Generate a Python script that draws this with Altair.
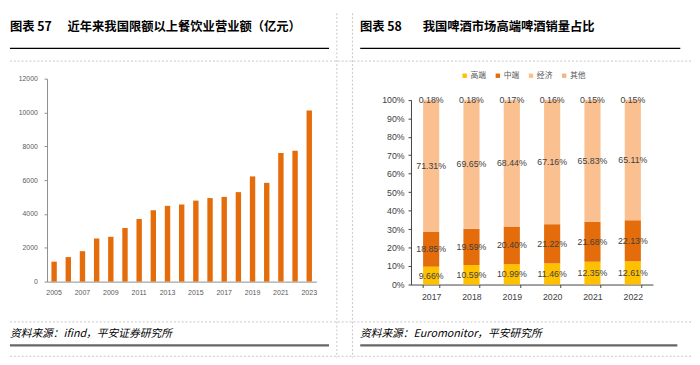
import altair as alt
import pandas as pd

# ---------------- data ----------------
years_left = ["2005", "2006", "2007", "2008", "2009", "2010", "2011", "2012", "2013", "2014",
              "2015", "2016", "2017", "2018", "2019", "2020", "2021", "2022", "2023"]
revenue = [1180, 1450, 1800, 2550, 2650, 3170, 3700, 4220, 4480, 4560,
           4790, 4940, 5010, 5290, 6220, 5840, 7600, 7740, 10120]
left_tick_years = ["2005", "2007", "2009", "2011", "2013", "2015", "2017", "2019", "2021", "2023"]

years_right = ["2017", "2018", "2019", "2020", "2021", "2022"]
segments = ["高端", "中端", "经济", "其他"]
high = [9.66, 10.59, 10.99, 11.46, 12.35, 12.61]
middle = [18.85, 19.59, 20.40, 21.22, 21.68, 22.13]
economy = [71.31, 69.65, 68.44, 67.16, 65.83, 65.11]
other = [0.18, 0.18, 0.17, 0.16, 0.15, 0.15]
seg_colors = ["#FFC000", "#E46C0A", "#FAC090", "#F4B48A"]
pct_ticks = [0, 0.1, 0.2, 0.3, 0.4, 0.5, 0.6, 0.7, 0.8, 0.9, 1.0]

title_left = "近年来我国限额以上餐饮业营业额（亿元）"
title_right = "我国啤酒市场高端啤酒销量占比"
source_left = "资料来源：ifind，平安证券研究所"
source_right = "资料来源：Euromonitor，平安研究所"

CJK = "Noto Sans CJK SC"
NUM = "Liberation Sans"

# ---------------- tables ----------------
df_left = pd.DataFrame({"year": years_left, "value": revenue})

rows = []
for j, y in enumerate(years_right):
    base = 0.0
    for i, (seg, series) in enumerate(zip(segments, [high, middle, economy, other])):
        v = series[j]
        rows.append({"year": y, "seg": seg, "idx": i, "frac": v / 100.0,
                     "mid": (base + v / 2.0) / 100.0, "label": f"{v:.2f}%"})
        base += v
df_right = pd.DataFrame(rows)

one = pd.DataFrame({"k": [0]})


def hrule(x1, x2, y, color, width=1.0, dash=None):
    kw = dict(color=color, strokeWidth=width)
    if dash:
        kw["strokeDash"] = dash
    return alt.Chart(one).mark_rule(**kw).encode(
        x=alt.value(x1), x2=alt.value(x2), y=alt.value(y))


def vrule(x, y1, y2, color, width=1.0, dash=None):
    kw = dict(color=color, strokeWidth=width)
    if dash:
        kw["strokeDash"] = dash
    return alt.Chart(one).mark_rule(**kw).encode(
        x=alt.value(x), y=alt.value(y1), y2=alt.value(y2))


def label(txt, x, y, size, weight="normal", style="normal", font=CJK, color="#000000"):
    return alt.Chart(one).mark_text(
        text=txt, align="left", baseline="middle", fontSize=size, fontWeight=weight,
        fontStyle=style, font=font, color=color).encode(x=alt.value(x), y=alt.value(y))


# ---------------- left panel ----------------
LW, LH = 276, 208
bars_left = alt.Chart(df_left).mark_bar(color="#E46C0A").encode(
    x=alt.X("year:N", sort=years_left,
            scale=alt.Scale(paddingInner=0.62, paddingOuter=0.31),
            axis=alt.Axis(title=None, values=left_tick_years, labelAngle=0, ticks=False,
                          labelPadding=7, labelFontSize=7.2, labelFont=NUM,
                          labelColor="#595959", domainColor="#8c8c8c")),
    y=alt.Y("value:Q", scale=alt.Scale(domain=[0, 12000], nice=False),
            axis=alt.Axis(title=None, values=list(range(0, 12001, 2000)), format="d",
                          grid=False, tickSize=3, tickColor="#8c8c8c", labelPadding=7,
                          labelFontSize=7, labelFont=NUM, labelColor="#595959",
                          domainColor="#8c8c8c", labelOverlap=False)),
).properties(width=LW, height=LH)

GRAY = "#c4c4c4"
DASH = [2, 2]
deco = [
    hrule(-38, -37, -67, "#ffffff"),  # anchor
    label("图表 57", -38, -52.5, 12.6, weight="bold"),
    label(title_left, 21, -52.5, 12.6, weight="bold"),
    label("图表 58", 320.7, -52.5, 12.6, weight="bold"),
    label(title_right, 385, -52.5, 12.6, weight="bold"),
    hrule(-38, 289, -31, "#000000", 1.3),
    hrule(321, 649, -31, "#000000", 1.3),
    hrule(-38, 660, -18, GRAY, 1, DASH),
    hrule(-38, 660, 249.3, GRAY, 1, DASH),
    hrule(-38, 660, 284.5, GRAY, 1, DASH),
    vrule(297, -67, 286, GRAY, 1, DASH),
    vrule(313, -67, 286, GRAY, 1, DASH),
    label(source_left, -38, 261.7, 11, style="italic"),
    label(source_right, 320.7, 261.7, 11, style="italic"),
    hrule(-38, 289, 273.3, "#666666", 2.4),
    hrule(321, 646, 273.3, "#666666", 2.4),
]
left_panel = alt.layer(bars_left, *deco)

# ---------------- right panel ----------------
RW, RH = 248, 211
x_scale_r = alt.Scale(paddingInner=0.6, paddingOuter=0.3)
y_scale = alt.Scale(domain=[0, 1], range=[RH, 21.7], nice=False)
x_axis_r = alt.Axis(title=None, labelAngle=0, tickBand="extent", tickSize=3,
                    tickColor="#404040", labelPadding=5, labelFontSize=9,
                    labelFont=NUM, labelColor="#404040", domainColor="#404040")
y_axis_r = alt.Axis(title=None, format=".0%", values=pct_ticks,
                    grid=False, tickSize=3, tickColor="#404040", labelPadding=4,
                    labelFontSize=9, labelFont=NUM, labelColor="#404040",
                    domainColor="#404040", labelOverlap=False)

bars_right = alt.Chart(df_right).mark_bar().encode(
    x=alt.X("year:N", sort=years_right, scale=x_scale_r, axis=x_axis_r),
    y=alt.Y("frac:Q", stack="zero", scale=y_scale, axis=y_axis_r),
    color=alt.Color("seg:N", scale=alt.Scale(domain=segments, range=seg_colors),
                    legend=alt.Legend(title=None, orient="none", legendX=424, legendY=-7,
                                      direction="horizontal", symbolType="square",
                                      symbolSize=20, symbolStrokeWidth=0, labelFontSize=8,
                                      labelFont=CJK, labelColor="#595959", labelOffset=2,
                                      columnPadding=8)),
    order=alt.Order("idx:Q", sort="ascending"),
)

texts_right = alt.Chart(df_right).mark_text(
    fontSize=9, font=NUM, color="#404040", baseline="middle").encode(
    x=alt.X("year:N", sort=years_right, scale=x_scale_r, axis=x_axis_r),
    y=alt.Y("mid:Q", stack=None, scale=y_scale, axis=y_axis_r),
    text="label:N",
)

right_panel = alt.layer(bars_right, texts_right).properties(width=RW, height=RH)

chart = alt.hconcat(left_panel, right_panel, spacing=97, bounds="flush").properties(
    padding=0, background="white"
).configure_view(stroke=None)

chart.save("out.html", embed_options={"renderer": "svg", "actions": False})
